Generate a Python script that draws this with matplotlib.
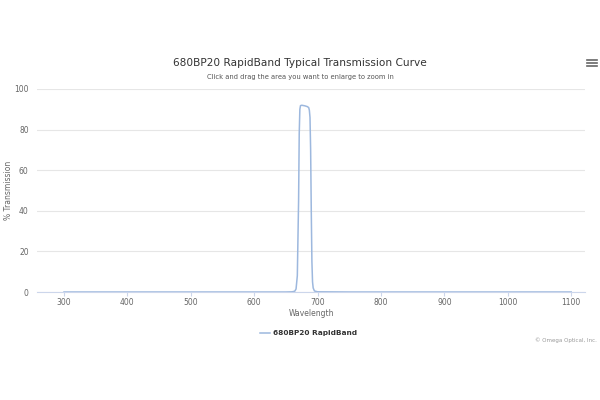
import matplotlib
matplotlib.use("Agg")
import matplotlib.pyplot as plt
from matplotlib.lines import Line2D

wavelength = [300, 400, 500, 600, 650, 660, 664, 666, 668, 670, 671, 672, 673, 675, 680,
              684, 686, 687, 688, 689, 690, 691, 692, 693, 695, 700, 750, 800, 900, 1000, 1100]
transmission = [0, 0, 0, 0, 0, 0.1, 0.4, 1.5, 8, 45, 78, 90, 91.8, 92, 91.7,
                91.3, 90.8, 89.5, 86, 70, 40, 15, 5, 2, 0.5, 0.1, 0, 0, 0, 0, 0]
x_ticks = [300, 400, 500, 600, 700, 800, 900, 1000, 1100]
y_ticks = [0, 20, 40, 60, 80, 100]
series_name = "680BP20 RapidBand"

line_color = "#9db8de"
text_color = "#666666"
grid_color = "#e6e6e6"

fig = plt.figure(figsize=(6, 4), dpi=100)
ax = fig.add_axes([0.0617, 0.27, 0.9133, 0.5075])

ax.plot(wavelength, transmission, color=line_color, lw=1.1, solid_joinstyle="round")

x_per_px = 100 / 63.4
ax.set_xlim(300 - 27 * x_per_px, 300 + 521 * x_per_px)
ax.set_ylim(0, 100)
ax.set_xticks(x_ticks)
ax.set_yticks(y_ticks)
ax.grid(axis="y", color=grid_color, lw=0.8)
ax.set_axisbelow(True)
for s in ["top", "right", "left"]:
    ax.spines[s].set_visible(False)
ax.spines["bottom"].set_color("#ccd6eb")
ax.spines["bottom"].set_linewidth(0.8)
ax.tick_params(axis="x", colors="#ccd6eb", length=3, width=0.8, labelcolor=text_color,
               labelsize=5.5, pad=1.5)
ax.tick_params(axis="y", length=0, labelcolor=text_color, labelsize=5.5, pad=6)

ax.set_xlabel("Wavelength", fontsize=5.5, color=text_color, labelpad=1)
fig.text(9 / 600, 1 - 190 / 400, "% Transmission", rotation=90, ha="center", va="center",
         fontsize=5.5, color=text_color)

fig.text(0.5, 1 - 63 / 400, "680BP20 RapidBand Typical Transmission Curve",
         ha="center", va="center", fontsize=7.6, color="#333333")
fig.text(0.5, 1 - 77 / 400, "Click and drag the area you want to enlarge to zoom in",
         ha="center", va="center", fontsize=4.9, color="#555555")

# menu icon
for dy in (-3, 0, 3):
    fig.add_artist(Line2D([587 / 600, 597 / 600], [1 - (63 + dy) / 400] * 2,
                          color="#666666", lw=1.2, transform=fig.transFigure))

# legend
fig.add_artist(Line2D([260 / 600, 270 / 600], [1 - 333 / 400] * 2, color=line_color,
                      lw=1.1, transform=fig.transFigure))
fig.text(273 / 600, 1 - 333 / 400, series_name, ha="left", va="center",
         fontsize=5.3, fontweight="bold", color="#333333")
fig.text(597 / 600, 1 - 340 / 400, "© Omega Optical, Inc.", ha="right", va="center",
         fontsize=4, color="#999999")

fig.savefig("out.png", dpi=100, facecolor="white")
